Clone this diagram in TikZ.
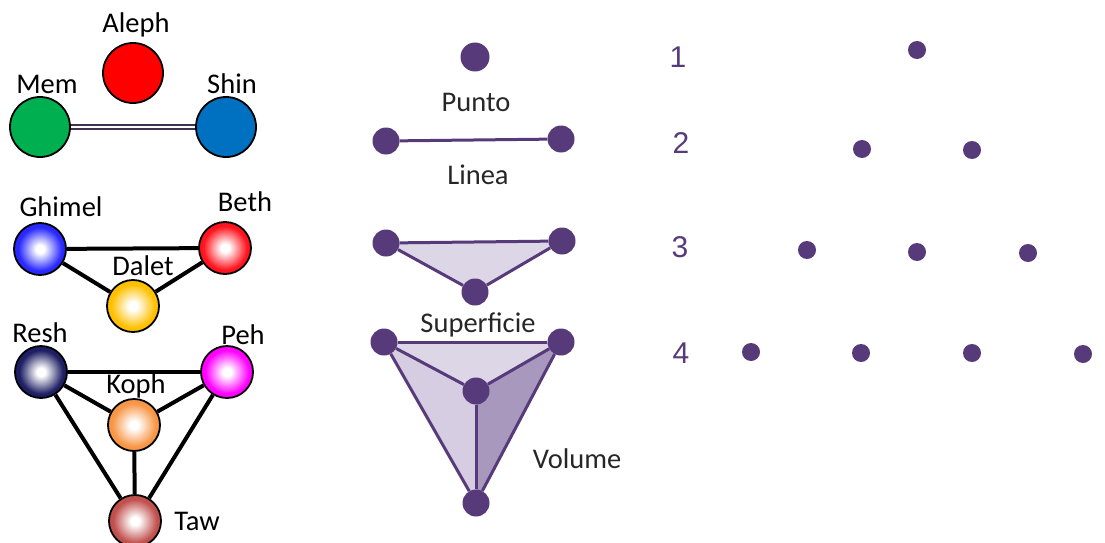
\documentclass[tikz,border=0pt]{standalone}
\usepackage{fontspec}
\setmainfont{Carlito}
\newfontfamily\numfont{Liberation Sans}
\usetikzlibrary{backgrounds}
\definecolor{vio}{RGB}{86,58,122}
\definecolor{facelight}{RGB}{221,214,230}
\definecolor{facemid}{RGB}{214,205,226}
\definecolor{facedark}{RGB}{168,152,190}
\definecolor{dbl}{RGB}{64,49,82}
\definecolor{memgreen}{RGB}{0,176,80}
\definecolor{shinblue}{RGB}{0,112,192}
\definecolor{dalety}{RGB}{255,192,0}
\definecolor{reshnavy}{RGB}{30,30,100}
\definecolor{kophor}{RGB}{247,150,70}
\definecolor{tawred}{RGB}{192,80,77}
\definecolor{ghblue}{RGB}{40,40,255}
\definecolor{bethred}{RGB}{255,20,30}
\definecolor{pehmag}{RGB}{255,0,255}
\pgfdeclareradialshading{ghshade}{\pgfpoint{0bp}{0bp}}{color(0bp)=(white); color(4bp)=(white); color(21bp)=(ghblue); color(50bp)=(ghblue)}
\pgfdeclareradialshading{beshade}{\pgfpoint{0bp}{0bp}}{color(0bp)=(white); color(4bp)=(white); color(21bp)=(bethred); color(50bp)=(bethred)}
\pgfdeclareradialshading{dashade}{\pgfpoint{0bp}{0bp}}{color(0bp)=(white); color(4bp)=(white); color(21bp)=(dalety); color(50bp)=(dalety)}
\pgfdeclareradialshading{reshade}{\pgfpoint{0bp}{0bp}}{color(0bp)=(white); color(4bp)=(white); color(21bp)=(reshnavy); color(50bp)=(reshnavy)}
\pgfdeclareradialshading{peshade}{\pgfpoint{0bp}{0bp}}{color(0bp)=(white); color(4bp)=(white); color(21bp)=(pehmag); color(50bp)=(pehmag)}
\pgfdeclareradialshading{koshade}{\pgfpoint{0bp}{0bp}}{color(0bp)=(white); color(4bp)=(white); color(21bp)=(kophor); color(50bp)=(kophor)}
\pgfdeclareradialshading{tashade}{\pgfpoint{0bp}{0bp}}{color(0bp)=(white); color(4bp)=(white); color(21bp)=(tawred); color(50bp)=(tawred)}
\tikzset{
  ball/.style={circle, draw=black, line width=1.8pt, inner sep=0pt},
  bigball/.style={ball, minimum size=60pt},
  smallball/.style={ball, minimum size=52pt},
  lbl/.style={font=\fontsize{28.5}{32}\selectfont, text=black, inner sep=0pt},
  rlbl/.style={font=\fontsize{28.5}{32}\selectfont, text=black!85, inner sep=0pt},
  num/.style={font=\numfont\fontsize{30}{34}\selectfont, text=vio, inner sep=0pt},
  conn/.style={line width=4pt, black},
  pdot/.style={circle, fill=vio, inner sep=0pt, minimum size=27pt},
  sdot/.style={circle, fill=vio, inner sep=0pt, minimum size=18pt},
  pline/.style={vio, line width=3pt, line join=round},
}
\begin{document}
\begin{tikzpicture}[x=1pt,y=-1pt]
\useasboundingbox (0,0) rectangle (1105,543);

% ---------- left: Aleph, Mem, Shin ----------
\node[bigball, fill=red] (aleph) at (133,73) {};
\node[bigball, fill=memgreen] (mem) at (40,127) {};
\node[bigball, fill=shinblue] (shin) at (226,127) {};
\node[lbl] (lal) at (136,25) {Aleph};
\node[lbl] (lmem) at (47,84) {Mem};
\node[lbl] (lshin) at (232,84) {Shin};
\draw[dbl, line width=1.8pt, double=white, double distance=2pt] (mem) -- (shin);

% ---------- Ghimel, Beth, Dalet ----------
\node[smallball, shade, shading=ghshade] (ghimel) at (40,249) {};
\node[smallball, shade, shading=beshade] (beth) at (225,248) {};
\node[smallball, shade, shading=dashade] (dalet) at (133,306) {};
\node[lbl] (lgh) at (61,207) {Ghimel};
\node[lbl] (lbe) at (245,202) {Beth};
\node[lbl] (lda) at (143,266) {Dalet};
\draw[conn] (ghimel) -- (beth);
\draw[conn] (ghimel) -- (dalet);
\draw[conn] (dalet) -- (beth);

% ---------- Resh, Peh, Koph, Taw ----------
\node[smallball, shade, shading=reshade] (resh) at (41,372) {};
\node[smallball, shade, shading=peshade] (peh) at (227,372) {};
\node[smallball, shade, shading=koshade] (koph) at (134,425) {};
\node[smallball, shade, shading=tashade] (taw) at (135,521) {};
\node[lbl] (lre) at (40,333) {Resh};
\node[lbl] (lpe) at (243,335) {Peh};
\node[lbl] (lko) at (136,386) {Koph};
\node[lbl] (lta) at (197,521) {Taw};
\draw[conn] (resh) -- (peh);
\draw[conn] (resh) -- (koph);
\draw[conn] (peh) -- (koph);
\draw[conn] (koph) -- (taw);
\draw[conn] (resh) -- (taw);
\draw[conn] (peh) -- (taw);

% ---------- middle: geometric forms ----------
\node[pdot, minimum width=26pt, minimum height=29pt] (punto) at (475,57) {};
\node[rlbl] (lpunto) at (476,102) {Punto};

\node[pdot] (la) at (386,141) {};
\node[pdot] (lb) at (561,139) {};
\node[rlbl] (llinea) at (478,175) {Linea};
\draw[pline] (la) -- (lb);

\node[pdot] (sa) at (386,243) {};
\node[pdot] (sb) at (562,241) {};
\node[pdot] (sc) at (475,292) {};
\node[rlbl] (lsup) at (478,325) {Superficie};
\begin{scope}[on background layer]
  \fill[facelight] (sa.center) -- (sb.center) -- (sc.center) -- cycle;
\end{scope}
\draw[pline] (sa) -- (sb);
\draw[pline] (sa) -- (sc);
\draw[pline] (sb) -- (sc);

\node[pdot] (va) at (384,342) {};
\node[pdot] (vb) at (561,342) {};
\node[pdot] (vc) at (476,391) {};
\node[pdot] (vd) at (476,503) {};
\node[rlbl] (lvol) at (577,459) {Volume};
\begin{scope}[on background layer]
  \fill[facelight] (va.center) -- (vb.center) -- (vc.center) -- cycle;
  \fill[facemid] (va.center) -- (vc.center) -- (vd.center) -- cycle;
  \fill[facedark] (vc.center) -- (vb.center) -- (vd.center) -- cycle;
\end{scope}
\draw[pline] (va) -- (vb);
\draw[pline] (va) -- (vc);
\draw[pline] (vb) -- (vc);
\draw[pline] (va) -- (vd);
\draw[pline] (vb) -- (vd);
\draw[pline] (vc) -- (vd);

% ---------- right: tetractys ----------
\node[num] (n1) at (678,57) {1};
\node[num] (n2) at (681,143) {2};
\node[num] (n3) at (680,247) {3};
\node[num] (n4) at (681,353) {4};

\node[sdot] (d11) at (917,50) {};
\node[sdot] (d21) at (862,149) {};
\node[sdot] (d22) at (972,150) {};
\node[sdot] (d31) at (807,250) {};
\node[sdot] (d32) at (917,252) {};
\node[sdot] (d33) at (1028,253) {};
\node[sdot] (d41) at (751,352) {};
\node[sdot] (d42) at (861,353) {};
\node[sdot] (d43) at (972,353) {};
\node[sdot] (d44) at (1083,354) {};
\end{tikzpicture}
\end{document}
